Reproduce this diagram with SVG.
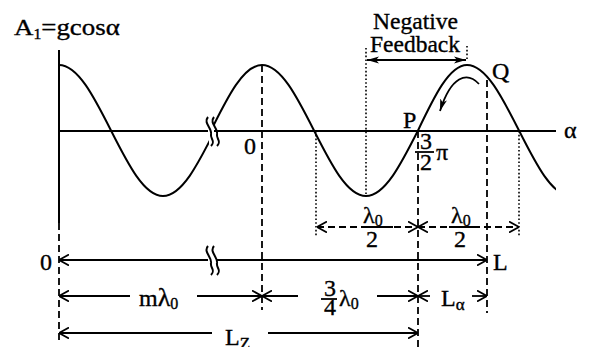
<svg xmlns="http://www.w3.org/2000/svg" width="593" height="347" viewBox="0 0 593 347">
<style>
.c{fill:none;stroke:#000;stroke-width:2}
.a{fill:none;stroke:#000;stroke-width:1.8}
.d{fill:none;stroke:#000;stroke-width:1.8;stroke-dasharray:7 4}
.o{fill:none;stroke:#000;stroke-width:1.6;stroke-dasharray:1.6 2.2}
text{font-family:"Liberation Serif","Times New Roman",serif;fill:#000;stroke:#000;stroke-width:0.35;font-size:24px}
</style>
<defs>
<marker id="v" viewBox="0 0 10 12" refX="10" refY="6" markerWidth="10" markerHeight="12" markerUnits="userSpaceOnUse" orient="auto-start-reverse">
<path d="M0,0.5 L10,6 L0,11.5" fill="none" stroke="#000" stroke-width="1.8"/>
</marker>
<marker id="f" viewBox="0 0 12 8" refX="12" refY="4" markerWidth="12" markerHeight="8" markerUnits="userSpaceOnUse" orient="auto-start-reverse">
<path d="M0,0.5 L12,4 L0,7.5 L3,4 z" fill="#000"/>
</marker>
<clipPath id="cl"><rect x="0" y="0" width="209" height="347"/></clipPath>
<clipPath id="cr"><rect x="214" y="0" width="342" height="347"/></clipPath>
</defs>

<g id="axes">
<path class="c" d="M59,50 V223"/>
<path class="c" d="M59,131 H208 M214,131 H556"/>
<path class="c" d="M208,117 C203,123 212,128 211,134 C210,139 216,141 211,146"/>
<path class="c" d="M214,117 C209,123 218,128 217,134 C216,139 222,141 217,146"/>
<text id="ylabel" x="0" y="0" font-size="23" transform="translate(14,35) scale(1.12,1)">A<tspan font-size="14" dy="4">1</tspan><tspan dy="-4">=gcosα</tspan></text>
<text x="564" y="138" font-size="28">α</text>
<text x="244" y="154" font-size="25">0</text>
</g>

<g id="wave">
<path class="c" clip-path="url(#cl)" d="M59,65 C77.82,65 94.04,96.94 111,130.5 C127.96,164.06 144.18,196 163,196 C181.82,196 198.04,164.06 215,130.5"/>
<path class="c" clip-path="url(#cr)" d="M211,130.5 C227.63,96.94 243.54,65 262,65 C280.82,65 297.04,96.94 314,130.5 C330.96,164.06 347.18,196 366,196 C384.82,196 401.04,164.06 418,130.5 C433.98,96.94 449.27,65 467,65 C485.82,65 502.04,96.94 519,130.5 C535.96,164.06 552.18,196 571,196"/>
</g>

<g id="guides">
<path class="d" d="M59,223 V342"/>
<path class="d" d="M262,65 V310"/>
<path class="d" d="M418,131 V347"/>
<path class="d" d="M487,80 V313"/>
<path class="o" d="M366,48 V196"/>
<path class="o" d="M467,46 V60"/>
<path class="o" d="M316,131 V237"/>
<path class="o" d="M519,131 V237"/>
</g>

<g id="feedback">
<text x="373" y="29" font-size="21" textLength="85" lengthAdjust="spacingAndGlyphs">Negative</text>
<text x="370" y="52" font-size="21" textLength="90" lengthAdjust="spacingAndGlyphs">Feedback</text>
<path class="a" d="M367,60 H466" marker-start="url(#f)" marker-end="url(#f)"/>
</g>

<g id="points">
<text x="403" y="128" font-size="22">P</text>
<text x="492" y="79" font-size="23">Q</text>
<path class="a" d="M479,84 C467,71 451,76 440,111" marker-end="url(#f)"/>
<text x="420" y="149" font-size="21">3</text>
<path class="a" d="M415,152 H434"/>
<text x="420" y="170" font-size="21">2</text>
<text x="436" y="160" font-size="24">π</text>
</g>

<g id="connectors">
<path class="d" d="M317,227 H418" marker-start="url(#v)" marker-end="url(#v)"/>
<path class="d" d="M418,227 H519" marker-start="url(#v)" marker-end="url(#v)"/>
<path class="a" d="M361,227 H393 M449,227 H479"/>
<path class="a" d="M59,260 H208 M216,260 H487" marker-start="url(#v)" marker-end="url(#v)"/>
<path class="c" d="M208,246 C203,252 212,257 211,263 C210,268 216,270 211,275"/>
<path class="c" d="M214,246 C209,252 218,257 217,263 C216,268 222,270 217,275"/>
<path class="a" d="M59,296 H130" marker-start="url(#v)"/>
<path class="a" d="M197,296 H262" marker-end="url(#v)"/>
<path class="a" d="M262,296 H298" marker-start="url(#v)"/>
<path class="a" d="M377,296 H418" marker-end="url(#v)"/>
<path class="a" d="M418,296 H430" marker-start="url(#v)"/>
<path class="a" d="M472,296 H487" marker-end="url(#v)"/>
<path class="a" d="M59,333 H212" marker-start="url(#v)"/>
<path class="a" d="M268,333 H418" marker-end="url(#v)"/>
</g>

<g id="labels">
<text x="363" y="223" font-size="26">λ<tspan font-size="16" dy="3">0</tspan></text>
<text x="366" y="247" font-size="23">2</text>
<text x="451" y="223" font-size="26">λ<tspan font-size="16" dy="3">0</tspan></text>
<text x="454" y="247" font-size="23">2</text>
<text x="40" y="270" font-size="26">0</text>
<text x="493" y="270" font-size="26">L</text>
<text x="139" y="306" font-size="24">m<tspan font-size="26">λ</tspan><tspan font-size="16" dy="3">0</tspan></text>
<text x="324" y="296" font-size="19">3</text>
<path class="a" d="M321,299 H337"/>
<text x="324" y="315" font-size="19">4</text>
<text x="339" y="306" font-size="26">λ<tspan font-size="16" dy="3">0</tspan></text>
<text x="441" y="306" font-size="25">L<tspan font-size="17" dy="4">α</tspan></text>
<text x="225" y="345" font-size="26">L<tspan font-size="17" dy="4">Z</tspan></text>
</g>
</svg>
